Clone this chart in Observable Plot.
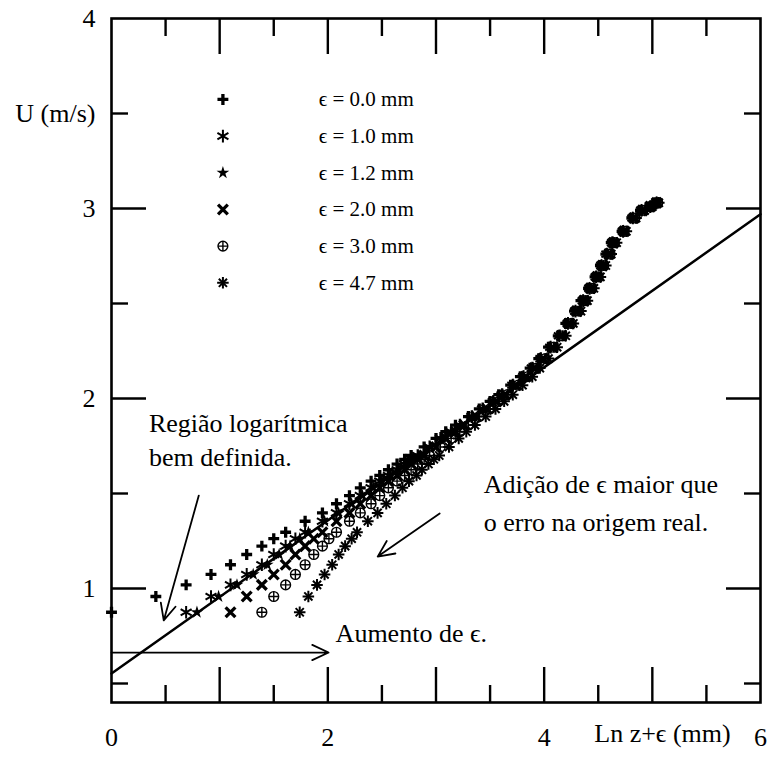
<!DOCTYPE html>
<html><head><meta charset="utf-8">
<script src="https://cdn.jsdelivr.net/npm/d3@7"></script>
<script src="https://cdn.jsdelivr.net/npm/@observablehq/plot@0.6"></script>
<style>html,body{margin:0;padding:0;background:#fff;overflow:hidden}
#chart svg text{font-family:'Liberation Serif','Times New Roman',Times,serif !important}</style>
</head><body><div id="chart"></div>
<script>
// Velocity U (m/s), shared by all series (same measured profile)
const speedU = [0.875,0.958,1.019,1.074,1.125,1.179,1.223,1.262,1.296,
  1.354,1.398,1.446,1.489,1.53,
  1.565,1.595,1.625,1.655,1.68,1.70,
  1.745,1.79,1.825,1.86,
  1.905,1.945,1.985,2.02,
  2.07,2.115,2.16,2.21,
  2.27,2.33,2.395,2.46,2.515,2.58,2.64,2.70,2.76,2.82,
  2.88,2.95,2.99,3.01,3.03];
// Ln z+eps values read for each series
const lnEps00 = [0.00,0.41,0.69,0.92,1.10,1.25,1.39,1.50,1.61, 1.79,1.95,2.08,2.20,2.30, 2.40,2.48,2.56,2.64,2.71,2.77, 2.89,3.00,3.09,3.18, 3.30,3.40,3.50,3.58, 3.69,3.78,3.87,3.95, 4.04,4.13,4.20,4.28,4.34,4.41,4.47,4.52,4.57,4.62, 4.72,4.81,4.89,4.97,5.03];
const lnEps10 = [0.69,0.92,1.10,1.25,1.39,1.50,1.61,1.70,1.79, 1.95,2.08,2.20,2.30,2.40, 2.48,2.56,2.64,2.71,2.77,2.83, 2.94,3.04,3.14,3.22, 3.33,3.43,3.53,3.61, 3.71,3.81,3.89,3.97, 4.06,4.14,4.22,4.29,4.36,4.42,4.48,4.53,4.58,4.63, 4.73,4.82,4.90,4.98,5.04];
const lnEps12 = [0.79,0.99,1.16,1.31,1.44,1.55,1.65,1.74,1.82, 1.97,2.10,2.22,2.32,2.42, 2.50,2.58,2.65,2.72,2.79,2.84, 2.95,3.05,3.14,3.23, 3.34,3.44,3.53,3.62, 3.72,3.81,3.90,3.97, 4.06,4.15,4.22,4.29,4.36,4.42,4.48,4.53,4.59,4.64, 4.73,4.82,4.90,4.98,5.04];
const lnEps20 = [1.10,1.25,1.39,1.50,1.61,1.70,1.79,1.87,1.95, 2.08,2.20,2.30,2.40,2.48, 2.56,2.64,2.71,2.77,2.83,2.89, 3.00,3.09,3.18,3.26, 3.37,3.47,3.56,3.64, 3.74,3.83,3.91,3.99, 4.08,4.16,4.23,4.30,4.37,4.43,4.49,4.54,4.60,4.64, 4.74,4.83,4.91,4.98,5.04];
const lnEps30 = [1.39,1.50,1.61,1.70,1.79,1.87,1.95,2.01,2.08, 2.20,2.30,2.40,2.48,2.56, 2.64,2.71,2.77,2.83,2.89,2.94, 3.04,3.14,3.22,3.30, 3.40,3.50,3.58,3.66, 3.76,3.85,3.93,4.01, 4.09,4.17,4.25,4.32,4.38,4.44,4.50,4.55,4.61,4.65, 4.74,4.84,4.91,4.99,5.05];
const lnEps47 = [1.74,1.82,1.90,1.97,2.04,2.10,2.16,2.22,2.27, 2.37,2.46,2.54,2.62,2.69, 2.75,2.82,2.87,2.93,2.98,3.03, 3.12,3.21,3.28,3.36, 3.46,3.55,3.63,3.71, 3.80,3.89,3.96,4.04, 4.12,4.20,4.27,4.34,4.40,4.46,4.52,4.57,4.62,4.67, 4.76,4.85,4.93,5.00,5.06];
const legendLabels = ["ϵ = 0.0 mm","ϵ = 1.0 mm","ϵ = 1.2 mm","ϵ = 2.0 mm","ϵ = 3.0 mm","ϵ = 4.7 mm"];
// fitted log-law line
const fitX = [0, 6];
const fitU = [0.553, 2.97];
// ticks
const xLabelTicks = [0, 2, 4, 6];
const yLabelTicks = [1, 2, 3, 4];
const xMajor = [1, 2, 3, 4, 5];
const xMinor = [0.5, 1.5, 2.5, 3.5, 4.5, 5.5];
const yMajor = [1, 2, 3];
const yMinor = [0.5, 1.5, 2.5, 3.5];
// annotations
const noteText = ["Região logarítmica", "bem definida.", "Adição de ϵ maior que", "o erro na origem real.", "Aumento de ϵ."];
const noteX = [0.346, 0.346, 3.441, 3.441, 2.072];
const noteU = [1.865, 1.691, 1.544, 1.349, 0.761];
const arrowX1 = [0.807, 3.034, 0.0];
const arrowU1 = [1.489, 1.395, 0.663];
const arrowX2 = [0.483, 2.461, 2.007];
const arrowU2 = [0.832, 1.168, 0.663];

const font = "'Liberation Serif','Times New Roman',Times,serif";
const seriesX = [lnEps00, lnEps10, lnEps12, lnEps20, lnEps30, lnEps47];
const styles = [
  [{symbol: "plus", r: 3.6, strokeWidth: 3.3}],
  [{symbol: "asterisk", r: 6.0, strokeWidth: 2.0}],
  [{symbol: "star", r: 4.0, fill: true}],
  [{symbol: "times", r: 4.5, strokeWidth: 3.3}],
  [{symbol: "circle", r: 4.9, strokeWidth: 1.4}, {symbol: "plus", r: 3.3, strokeWidth: 1.4}],
  [{symbol: "plus", r: 3.8, strokeWidth: 2.0}, {symbol: "times", r: 3.8, strokeWidth: 2.0}]
];
function dotMarks(rows, st) {
  return st.map(s => Plot.dot(rows, {
    x: "x", y: "y", symbol: s.symbol, r: s.r,
    fill: s.fill ? "black" : "none",
    stroke: s.fill ? "none" : "black",
    strokeWidth: s.strokeWidth || 1
  }));
}
const marks = [];
seriesX.forEach((xs, i) => {
  const rows = xs.map((x, j) => ({x, y: speedU[j]}));
  marks.push(...dotMarks(rows, styles[i]));
});
// legend
const legendTopU = 3.574, legendStep = 0.193;
legendLabels.forEach((lab, i) => {
  const yy = legendTopU - i * legendStep;
  marks.push(...dotMarks([{x: 1.03, y: yy}], styles[i]));
  marks.push(Plot.text([{x: 1.916, y: yy, t: lab}], {x: "x", y: "y", text: "t", textAnchor: "start", fontSize: 21, fontFamily: font, fill: "black"}));
});
// fit line
marks.push(Plot.line(fitX.map((x, i) => ({x, y: fitU[i]})), {x: "x", y: "y", stroke: "black", strokeWidth: 2.5}));
// arrows
marks.push(Plot.arrow(arrowX1.map((x, i) => ({x1: x, y1: arrowU1[i], x2: arrowX2[i], y2: arrowU2[i]})),
  {x1: "x1", y1: "y1", x2: "x2", y2: "y2", stroke: "black", strokeWidth: 1.8, headLength: 15, headAngle: 50}));
// notes
marks.push(Plot.text(noteText.map((t, i) => ({t, x: noteX[i], y: noteU[i]})),
  {x: "x", y: "y", text: "t", textAnchor: "start", fontSize: 26, fontFamily: font, fill: "black"}));
// frame and axes
marks.push(Plot.frame({stroke: "black", strokeWidth: 2.6}));
for (const anchor of ["bottom", "top"]) {
  marks.push(Plot.axisX(xMajor, {anchor, tickSize: -35, fill: "none", strokeWidth: 2.4, label: null}));
  marks.push(Plot.axisX(xMinor, {anchor, tickSize: -17, fill: "none", strokeWidth: 2.4, label: null}));
}
for (const anchor of ["left", "right"]) {
  marks.push(Plot.axisY(yMajor, {anchor, tickSize: -35, fill: "none", strokeWidth: 2.4, label: null}));
  marks.push(Plot.axisY(yMinor, {anchor, tickSize: -17, fill: "none", strokeWidth: 2.4, label: null}));
}
marks.push(Plot.axisX(xLabelTicks, {anchor: "bottom", tickSize: 0, tickPadding: 25, tickFormat: d => String(d), fontSize: 26, fontFamily: font, label: null, fill: "black"}));
marks.push(Plot.axisY(yLabelTicks, {anchor: "left", tickSize: 0, tickPadding: 16, tickFormat: d => String(d), fontSize: 26, fontFamily: font, label: null, fill: "black"}));
marks.push(Plot.text(["U (m/s)"], {x: 0, y: 3.5, dx: -16, textAnchor: "end", fontSize: 26, fontFamily: font, fill: "black"}));
marks.push(Plot.text(["Ln z+ϵ (mm)"], {x: 5.724, frameAnchor: "bottom", dy: 39, textAnchor: "end", fontSize: 26, fontFamily: font, fill: "black"}));

const chart = Plot.plot({
  width: 768, height: 757,
  marginLeft: 111, marginRight: 8, marginTop: 18, marginBottom: 55,
  x: {domain: [0, 6]},
  y: {domain: [0.4, 4]},
  style: {fontFamily: font, background: "white", color: "black"},
  marks
});
document.getElementById("chart").appendChild(chart);
</script>
</body></html>
